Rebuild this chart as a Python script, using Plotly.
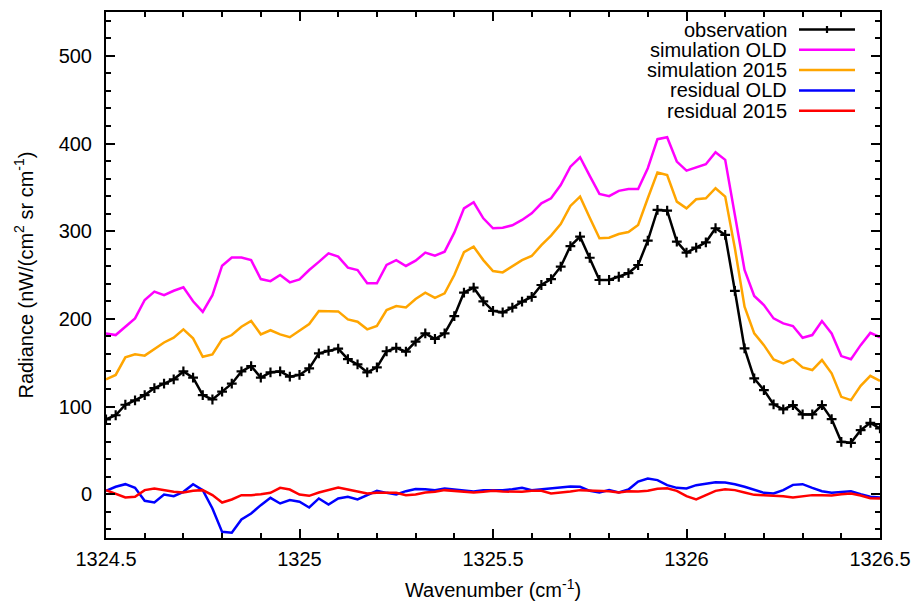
import numpy as np
import plotly.graph_objects as go

wavenumber = [round(1324.5 + 0.025 * i, 3) for i in range(81)]

observation = [85.3, 90, 102, 107, 113, 121, 126, 131, 140, 133,
               113, 108, 117, 126, 140, 146, 133, 139, 140, 134,
               136, 143.5, 160.6, 163.6, 166, 154, 148, 139, 144.6, 163,
               167, 162.5, 174, 183.4, 177, 183.4, 203, 230, 235.5, 220,
               209, 207.4, 212.7, 219.6, 225, 238.6, 245.4, 259.5, 283, 293.7,
               269.7, 244.3, 244.3, 248, 252.2, 261.4, 289.2, 324.2, 323.4, 288,
               275.5, 281.2, 287.3, 303.3, 295.7, 232, 166.3, 132, 118.7, 102.4,
               96.7, 101.6, 91, 91, 101.6, 85.6, 59.7, 58.6, 73, 81.4, 75]

sim_old = [183.4, 181.5, 191, 200.5, 221.5, 231, 227, 232, 236, 220,
           208, 227, 260.6, 270, 270, 267, 245.4, 243, 250, 241.6,
           245, 255.7, 265, 274.7, 271, 258.4, 255.7, 240.5, 240.5, 261.4,
           267, 260.3, 266.3, 275.5, 272, 276.6, 298.3, 326, 333, 314.7,
           303.3, 304, 306.7, 312.8, 320.4, 331.8, 337.5, 352.7, 373.6, 384.3,
           363, 342.5, 340, 346, 348, 348, 371.8, 404.9, 407.2, 379.4,
           369, 372.5, 376.3, 390, 381.3, 318.5, 255.7, 226, 215.8, 200.5,
           194.8, 191.8, 178.4, 181.5, 197.5, 183.4, 157.5, 154, 170, 184, 179]

sim_2015 = [131, 136, 156, 159.5, 158, 165.5, 173, 178.5, 188, 177.7,
            156.8, 159.5, 176.6, 181.5, 191, 197.5, 182.3, 187, 182.3, 179,
            187, 194, 209, 209, 208.5, 199.4, 196.7, 188, 192, 210,
            214.6, 213, 222.6, 229.8, 224, 229, 250, 276, 282.3, 267,
            254.6, 253, 260.3, 267, 271.7, 284, 295, 308, 328.8, 339.4,
            315.4, 291.9, 292.6, 296.8, 299, 307, 337.5, 367, 364, 333.7,
            326, 336.4, 337.5, 349, 339.4, 280.5, 213.8, 183.4, 170, 153.7,
            149.2, 154, 144.6, 141.6, 153, 137.8, 111, 107.3, 123.6, 135, 129.3]

res_old = [3.8, 8.4, 11.4, 7.2, -7.6, -9.5, -0.4, -2.3, 2.7, 11.4,
           4.6, -16.3, -43, -44, -28.9, -22, -12.5, -4.2, -10.6, -6.8,
           -8.7, -15.2, -4.9, -11.8, -4.9, -3, -6, -1.1, 3.8, 1.5,
           -0.4, 3.4, 6, 5.7, 4.6, 6.5, 5.3, 3.4, 3, 4.6,
           4.6, 4.6, 5.7, 7.2, 4.6, 5.7, 7.2, 8, 8.7, 8.4,
           3.8, 1.9, 4.6, 1.9, 5.3, 14.4, 17.9, 16, 10.3, 7.2,
           6.5, 10.3, 12.2, 13.7, 13.3, 11.4, 8.4, 4.6, 1.5, 0.8,
           4.6, 10.6, 11.4, 7.2, 3.4, 1.5, 2.7, 3.4, 0, -3, -3.8]

res_2015 = [4.6, 0.8, -3.8, -3, 4.6, 6.5, 4.6, 2.7, 1.9, 3.8,
            4.6, -1.1, -9.5, -6.1, -1.1, -1.1, 0, 1.5, 7.2, 5.3,
            -0.4, -1.9, 1.9, 4.6, 7.6, 5.3, 3.4, 0.8, 1.5, 1.9,
            1.5, -1.1, -0.4, 1.9, 2.7, 4.6, 3.8, 2.7, 1.9, 2.7,
            3.8, 3, 2.7, 2.7, 3.8, 3.8, 0.8, 1.5, 3, 4.6,
            4.2, 3.8, 3.4, 1.9, 3.4, 3, 3.8, 6.1, 6.8, 3.8,
            -2.3, -6.1, -1.1, 3.8, 5.7, 4.6, 1.9, -0.8, -1.1, -1.5,
            -2.3, -3.8, -2.7, -1.1, -1.1, -1.5, 0, 0.8, -1.5, -4.6, -4.9]

x_tickvals = [1324.5, 1325, 1325.5, 1326, 1326.5]
x_ticktext = ["1324.5", "1325", "1325.5", "1326", "1326.5"]
y_tickvals = [0, 100, 200, 300, 400, 500]

legend_names = ["observation", "simulation OLD", "simulation 2015", "residual OLD", "residual 2015"]
colors = ["#000000", "#ff00ff", "#ffa500", "#0000ff", "#ff0000"]

FONT = "Liberation Sans, Arial, Helvetica, sans-serif"
FS = 20

fig = go.Figure()
fig.add_trace(go.Scatter(x=wavenumber, y=observation, mode="lines+markers",
                         line=dict(color=colors[0], width=2.5),
                         marker=dict(symbol="cross-thin", size=7,
                                     line=dict(color=colors[0], width=2.2)),
                         name=legend_names[0], showlegend=False))
fig.add_trace(go.Scatter(x=wavenumber, y=sim_old, mode="lines",
                         line=dict(color=colors[1], width=2.5), name=legend_names[1], showlegend=False))
fig.add_trace(go.Scatter(x=wavenumber, y=sim_2015, mode="lines",
                         line=dict(color=colors[2], width=2.5), name=legend_names[2], showlegend=False))
fig.add_trace(go.Scatter(x=wavenumber, y=res_old, mode="lines",
                         line=dict(color=colors[3], width=2.5), name=legend_names[3], showlegend=False))
fig.add_trace(go.Scatter(x=wavenumber, y=res_2015, mode="lines",
                         line=dict(color=colors[4], width=2.5), name=legend_names[4], showlegend=False))

# manual gnuplot-style legend (text right-aligned, sample on the right)
W, H = 914, 601
L, R, T, B = 106, 34, 12, 63
pw, ph = W - L - R, H - T - B
def px(xp):
    return (xp - L) / pw
def py(yp):
    return 1 - (yp - T) / ph

row_y = [29.5, 49.8, 70.1, 90.4, 110.7]
shapes = []
annotations = []
for i, (nm, c) in enumerate(zip(legend_names, colors)):
    yy = py(row_y[i])
    annotations.append(dict(x=px(789), y=yy, xref="paper", yref="paper", text=nm,
                            showarrow=False, xanchor="right", yanchor="middle",
                            font=dict(size=FS, color="black", family=FONT)))
    shapes.append(dict(type="line", xref="paper", yref="paper", x0=px(799), x1=px(855),
                       y0=yy, y1=yy, line=dict(color=c, width=2.5)))
    if i == 0:
        shapes.append(dict(type="line", xref="paper", yref="paper", x0=px(827), x1=px(827),
                           y0=py(row_y[i] - 3.5), y1=py(row_y[i] + 3.5), line=dict(color=c, width=2.2)))

fig.update_layout(
    width=W, height=H,
    margin=dict(l=L, r=R, t=T, b=B),
    paper_bgcolor="white", plot_bgcolor="white",
    font=dict(family=FONT, size=FS, color="black"),
    shapes=shapes, annotations=annotations,
    showlegend=False,
)
fig.update_xaxes(range=[1324.5, 1326.5], tickvals=x_tickvals, ticktext=x_ticktext,
                 ticks="inside", ticklen=9, tickwidth=1.5, tickcolor="black",
                 minor=dict(dtick=0.1, ticks="inside", ticklen=5, tickwidth=1.5, tickcolor="black"),
                 showline=True, linecolor="black", linewidth=2, mirror="allticks",
                 showgrid=False, zeroline=False, ticklabelstandoff=2, automargin=False,
                 title=dict(text="Wavenumber (cm<sup>-1</sup>)", font=dict(size=FS), standoff=16),
                 tickfont=dict(size=FS))
fig.update_yaxes(range=[-50, 550], tickvals=y_tickvals,
                 ticks="inside", ticklen=9, tickwidth=1.5, tickcolor="black",
                 minor=dict(dtick=20, ticks="inside", ticklen=5, tickwidth=1.5, tickcolor="black"),
                 showline=True, linecolor="black", linewidth=2, mirror="allticks",
                 showgrid=False, zeroline=False, ticklabelstandoff=8, automargin=False,
                 title=dict(text="Radiance (nW/(cm<sup>2</sup> sr cm<sup>-1</sup>)", font=dict(size=FS), standoff=20),
                 tickfont=dict(size=FS))

fig.write_html("out.html")
